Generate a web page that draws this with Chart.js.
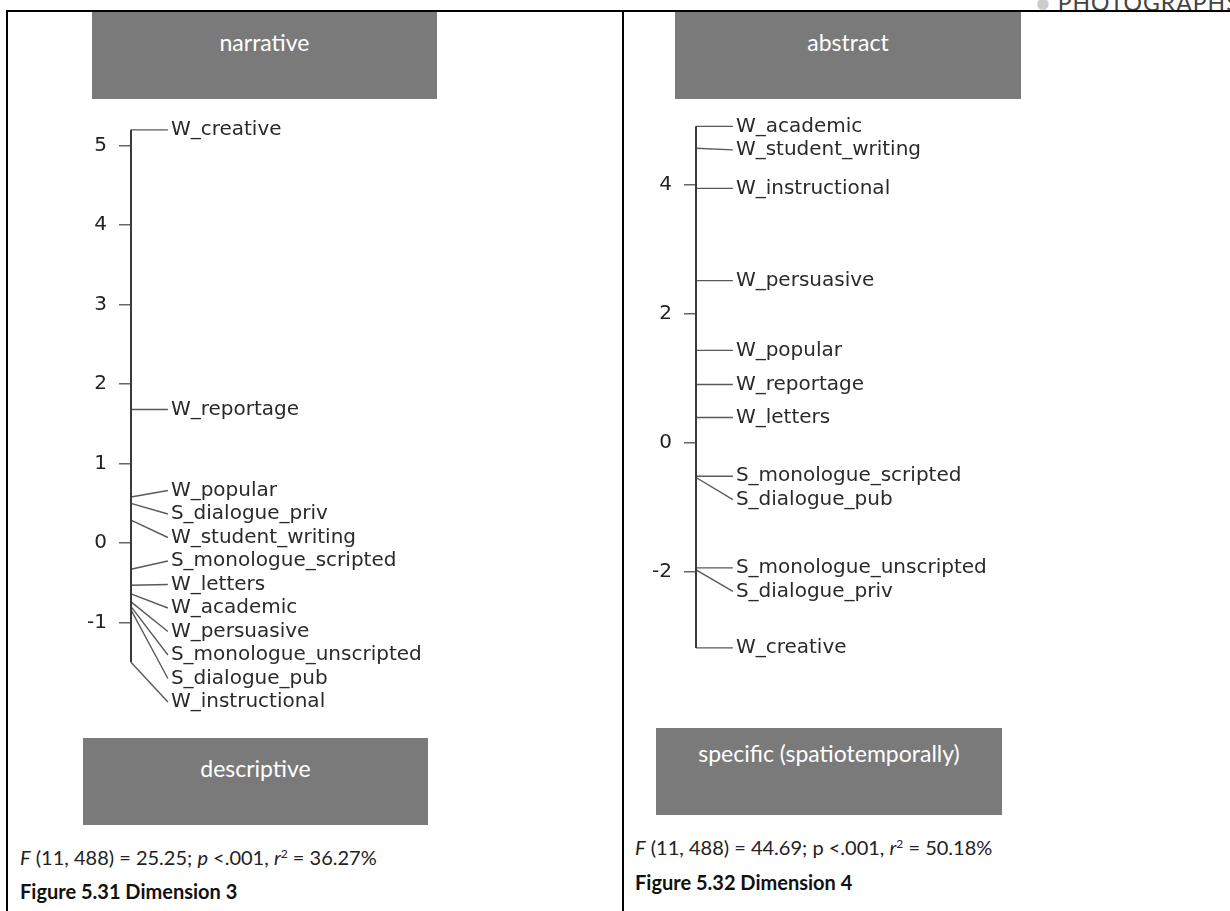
<!DOCTYPE html>
<html>
<head>
<meta charset="utf-8">
<script src="https://cdn.jsdelivr.net/npm/chart.js@4.4.1/dist/chart.umd.min.js"></script>
<style>
  html, body { margin: 0; padding: 0; background: #fff; }
  body { width: 1230px; height: 911px; position: relative; overflow: hidden; font-family: Lato, "Open Sans", sans-serif; }
  .rule { position: absolute; background: #000; }
  .pole { position: absolute; background: #7a7a7a; color: #fff; font-size: 23px; line-height: 28px; text-align: center; box-sizing: border-box; height: 87px; padding-top: 16px; }
  .chart { position: absolute; }
  .stats { position: absolute; font-size: 20px; line-height: 24px; color: #222; white-space: nowrap; }
  .stats sup { font-size: 0.6em; line-height: 0; vertical-align: 0.6em; }
  .caption { position: absolute; font-size: 20px; line-height: 24px; font-weight: 700; color: #111; white-space: nowrap; }
</style>
</head>
<body>
<div style="position:absolute; left:1036px; top:-11px; font-size:23px; line-height:26px; color:#444; letter-spacing:1px; white-space:nowrap"><span style="color:#ccc">&#9679;</span> PHOTOGRAPHS</div>

<div class="rule" style="left:6px; top:10px; width:1224px; height:2px"></div>
<div class="rule" style="left:6px; top:10px; width:2px; height:901px"></div>
<div class="rule" style="left:622px; top:10px; width:2px; height:901px"></div>

<div class="pole" style="left:92px; top:12px; width:345px">narrative</div>
<div class="pole" style="left:675px; top:12px; width:346px">abstract</div>

<canvas id="chart-dim3" class="chart" width="421" height="656" style="left:80px; top:76px"></canvas>
<canvas id="chart-dim4" class="chart" width="421" height="628" style="left:645px; top:77px"></canvas>

<div class="pole" style="left:83px; top:738px; width:345px">descriptive</div>
<div class="pole" style="left:656px; top:728px; width:346px; padding-top:11px">specific (spatiotemporally)</div>

<div class="stats" style="left:20px; top:845px"><i>F</i> (11, 488) = 25.25; <i>p</i> &lt;.001, <i>r</i><sup>2</sup> = 36.27%</div>
<div class="caption" style="left:20px; top:879px">Figure 5.31 Dimension 3</div>

<div class="stats" style="left:635px; top:835px"><i>F</i> (11, 488) = 44.69; p &lt;.001, <i>r</i><sup>2</sup> = 50.18%</div>
<div class="caption" style="left:635px; top:870px">Figure 5.32 Dimension 4</div>

<script>
// Dimension 3: narrative vs descriptive
var dim3Registers = ['W_creative', 'W_reportage', 'W_popular', 'S_dialogue_priv', 'W_student_writing',
    'S_monologue_scripted', 'W_letters', 'W_academic', 'W_persuasive', 'S_monologue_unscripted',
    'S_dialogue_pub', 'W_instructional'];
var dim3Scores = [5.2, 1.68, 0.58, 0.50, 0.29, -0.33, -0.53, -0.64, -0.74, -0.80, -0.84, -1.5];
var dim3Ticks = [-1, 0, 1, 2, 3, 4, 5];

// Dimension 4: abstract vs specific
var dim4Registers = ['W_academic', 'W_student_writing', 'W_instructional', 'W_persuasive', 'W_popular',
    'W_reportage', 'W_letters', 'S_monologue_scripted', 'S_dialogue_pub', 'S_monologue_unscripted',
    'S_dialogue_priv', 'W_creative'];
var dim4Scores = [4.9, 4.56, 3.94, 2.51, 1.43, 0.90, 0.39, -0.52, -0.54, -1.94, -1.97, -3.18];
var dim4Ticks = [-2, 0, 2, 4];

var LEADER = 1;      // length of the label leader lines, in x units
var LABEL_GAP = 23.5; // min vertical distance between labels, px
var LABEL_FONT = '20px "DejaVu Sans"';

var registerLabels = {
    id: 'registerLabels',
    afterDatasetsDraw: function (chart) {
        var ctx = chart.ctx;
        ctx.save();
        ctx.font = LABEL_FONT;
        ctx.fillStyle = '#2a2a2a';
        ctx.textBaseline = 'middle';
        ctx.textAlign = 'left';
        for (var i = 1; i < chart.data.datasets.length; ++i) {
            var end = chart.getDatasetMeta(i).data[1];
            ctx.fillText(chart.data.datasets[i].label, end.x + 3, end.y);
        }
        ctx.restore();
    }
};

function segment(label, points, color, width) {
    return {
        label: label,
        data: points,
        showLine: true,
        borderColor: color,
        borderWidth: width,
        pointRadius: 0,
        pointHoverRadius: 0,
        fill: false,
        clip: false
    };
}

// push overlapping labels apart: down from the top, then back up from the bottom edge
function spreadLabels(chart, scores) {
    var y = chart.scales.y;
    var order = scores.map(function (v, i) { return i; }).sort(function (a, b) { return scores[b] - scores[a]; });
    var pos = order.map(function (i) { return y.getPixelForValue(scores[i]); });
    var k;
    for (k = 1; k < pos.length; ++k) pos[k] = Math.max(pos[k], pos[k - 1] + LABEL_GAP);
    pos[pos.length - 1] = Math.min(pos[pos.length - 1], chart.chartArea.bottom);
    for (k = pos.length - 2; k >= 0; --k) pos[k] = Math.min(pos[k], pos[k + 1] - LABEL_GAP);
    order.forEach(function (idx, n) {
        chart.data.datasets[idx + 1].data[1].y = y.getValueForPixel(pos[n]);
    });
    chart.update('none');
}

function dimensionChart(canvasId, registers, scores, tickValues, yMin, yMax) {
    var datasets = [];
    var hi = Math.max.apply(null, scores);
    var lo = Math.min.apply(null, scores);
    datasets.push(segment('axis', [{ x: 0, y: hi }, { x: 0, y: lo }], '#3a3a3a', 2));
    for (var i = 0; i < registers.length; ++i) {
        datasets.push(segment(registers[i], [{ x: 0, y: scores[i] }, { x: LEADER, y: scores[i] }], '#5a5a5a', 1.4));
    }

    var chart = new Chart(document.getElementById(canvasId), {
        type: 'scatter',
        data: { datasets: datasets },
        options: {
            responsive: false,
            animation: false,
            layout: { padding: { top: 30, bottom: 30, left: 0, right: 0 } },
            plugins: { legend: { display: false }, tooltip: { enabled: false } },
            scales: {
                x: { type: 'linear', min: 0, max: 10, display: false },
                y: {
                    type: 'linear',
                    min: yMin,
                    max: yMax,
                    afterBuildTicks: function (scale) {
                        scale.ticks = tickValues.map(function (v) { return { value: v }; });
                    },
                    afterFit: function (scale) { scale.width = 51; },
                    border: { display: false },
                    grid: { drawOnChartArea: false, drawTicks: true, tickLength: 12, color: '#666', lineWidth: 1.5 },
                    ticks: { padding: 12, color: '#222', font: { family: 'DejaVu Sans', size: 20 } }
                }
            }
        },
        plugins: [registerLabels]
    });
    spreadLabels(chart, scores);
    return chart;
}

dimensionChart('chart-dim3', dim3Registers, dim3Scores, dim3Ticks, -2, 5.5);
dimensionChart('chart-dim4', dim4Registers, dim4Scores, dim4Ticks, -3.6, 5.2);
</script>
</body>
</html>
